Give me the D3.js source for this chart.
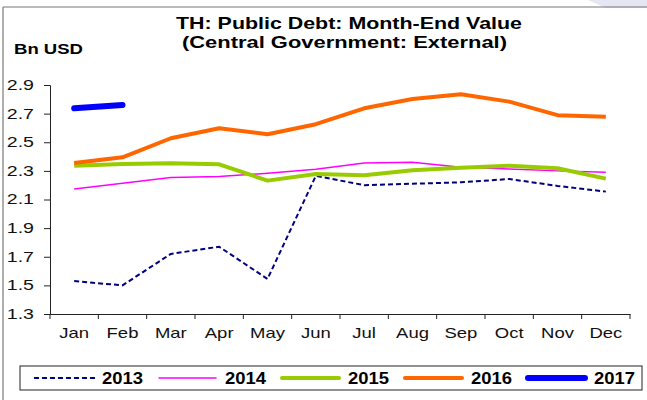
<!DOCTYPE html>
<html>
<head>
<meta charset="utf-8">
<script src="https://cdn.jsdelivr.net/npm/d3@7"></script>
<style>
  body { margin: 0; background: #fff; }
  svg { font-family: "Liberation Sans", Arial, sans-serif; }
</style>
</head>
<body>
<div id="vis"></div>
<script>
// chart data
const MONTHS = ["Jan","Feb","Mar","Apr","May","Jun","Jul","Aug","Sep","Oct","Nov","Dec"];
const Y_TICKS = [1.3, 1.5, 1.7, 1.9, 2.1, 2.3, 2.5, 2.7, 2.9];
const YEARS = ["2013", "2014", "2015", "2016", "2017"];
const V2013 = [1.53, 1.50, 1.72, 1.77, 1.545, 2.265, 2.20, 2.21, 2.22, 2.243, 2.195, 2.155];
const V2014 = [2.173, 2.213, 2.253, 2.26, 2.283, 2.311, 2.355, 2.36, 2.325, 2.313, 2.30, 2.29];
const V2015 = [2.336, 2.348, 2.353, 2.346, 2.232, 2.278, 2.269, 2.304, 2.322, 2.336, 2.318, 2.246];
const V2016 = [2.355, 2.395, 2.528, 2.598, 2.556, 2.626, 2.737, 2.802, 2.835, 2.784, 2.689, 2.679];
const V2017 = [2.737, 2.76];

const STYLES = [
  {color: "#000080", width: 2, dash: "5,3"},
  {color: "#ff00ff", width: 1.5, dash: null},
  {color: "#99cc00", width: 4, dash: null},
  {color: "#ff6600", width: 4, dash: null},
  {color: "#0000ff", width: 6, dash: null}
];
const SERIES = [V2013, V2014, V2015, V2016, V2017];

const FRAME_WIDTH = 647;
const FRAME_HEIGHT = 400;
const MARGINS = {left: 50, right: 17, top: 85, bottom: 86};
const VIS_WIDTH = FRAME_WIDTH - MARGINS.left - MARGINS.right;
const VIS_HEIGHT = FRAME_HEIGHT - MARGINS.top - MARGINS.bottom;

// the source picture is stretched sideways, so text is widened too
const TICK_STRETCH_X = 1.32;
const TICK_STRETCH_Y = 1.4;

const svg = d3.select("#vis").append("svg")
  .attr("width", FRAME_WIDTH)
  .attr("height", FRAME_HEIGHT);

// outer frame decoration
svg.append("path")
  .attr("d", "M588,0 L647,0 L647,8 L606,8 Z")
  .attr("fill", "#e4e6f4");
svg.append("line").attr("x1", 3).attr("x2", 647).attr("y1", 7).attr("y2", 7)
  .attr("stroke", "#777").attr("stroke-width", 1.2);
svg.append("line").attr("x1", 3).attr("x2", 3).attr("y1", 7).attr("y2", 400)
  .attr("stroke", "#777").attr("stroke-width", 1.2);

// title
svg.append("text").attr("x", 176).attr("y", 29)
  .attr("font-size", "16.5px").attr("font-weight", "bold")
  .attr("textLength", 346).attr("lengthAdjust", "spacingAndGlyphs")
  .text("TH: Public Debt: Month-End Value");
svg.append("text").attr("x", 182).attr("y", 48)
  .attr("font-size", "16.5px").attr("font-weight", "bold")
  .attr("textLength", 325).attr("lengthAdjust", "spacingAndGlyphs")
  .text("(Central Government: External)");
svg.append("text").attr("x", 14).attr("y", 54)
  .attr("font-size", "15px").attr("font-weight", "bold")
  .attr("textLength", 69).attr("lengthAdjust", "spacingAndGlyphs")
  .text("Bn USD");

const X_SCALE = d3.scaleBand().domain(MONTHS).range([0, VIS_WIDTH]);
const Y_SCALE = d3.scaleLinear().domain([1.3, 2.9]).range([VIS_HEIGHT, 0]);

const g = svg.append("g").attr("transform", `translate(${MARGINS.left},${MARGINS.top})`);

// axes
const xAxis = g.append("g").attr("transform", `translate(0,${VIS_HEIGHT})`)
  .call(d3.axisBottom(X_SCALE).tickSize(0).tickPadding(14));
xAxis.selectAll("text")
  .attr("font-size", "14px").attr("fill", "#111").attr("font-family", "Liberation Sans, Arial")
  .attr("transform", `scale(${TICK_STRETCH_X},1)`);
xAxis.selectAll(".tick").each(function() {
  // keep label centred after stretching
  const t = d3.select(this).select("text");
  t.attr("x", 0);
});
xAxis.select(".domain").attr("stroke", "#222");
xAxis.selectAll(".xtick").data(d3.range(MONTHS.length + 1)).enter().append("line")
  .attr("x1", (d) => d * X_SCALE.step()).attr("x2", (d) => d * X_SCALE.step())
  .attr("y1", 0).attr("y2", 5).attr("stroke", "#222");

const yAxis = g.append("g")
  .call(d3.axisLeft(Y_SCALE).tickValues(Y_TICKS).tickFormat(d3.format(".1f")).tickSize(6).tickPadding(10));
yAxis.selectAll("text")
  .attr("font-size", "14px").attr("fill", "#111").attr("font-family", "Liberation Sans, Arial")
  .attr("x", -16 / TICK_STRETCH_Y)
  .attr("transform", `scale(${TICK_STRETCH_Y},1)`);
yAxis.select(".domain").attr("stroke", "#222");
yAxis.selectAll(".tick line").attr("stroke", "#222");

// lines
const line = d3.line()
  .x((d, i) => X_SCALE(MONTHS[i]) + X_SCALE.bandwidth() / 2)
  .y((d) => Y_SCALE(d));

SERIES.forEach((vals, k) => {
  const s = STYLES[k];
  g.append("path")
    .datum(vals)
    .attr("d", line)
    .attr("fill", "none")
    .attr("stroke", s.color)
    .attr("stroke-width", s.width)
    .attr("stroke-linecap", k === 4 ? "round" : "butt")
    .attr("stroke-linejoin", "round")
    .attr("stroke-dasharray", s.dash);
});

// legend
svg.append("rect").attr("x", 20).attr("y", 366).attr("width", 622).attr("height", 24)
  .attr("fill", "#fff").attr("stroke", "#222").attr("stroke-width", 1);

const leg = svg.selectAll(".leg").data(YEARS).enter().append("g")
  .attr("transform", (d, i) => `translate(${34 + i * 123},378)`);
leg.append("line")
  .attr("x1", (d, i) => i === 0 ? 0 : 2).attr("x2", (d, i) => i === 0 ? 61 : 59)
  .attr("y1", 0).attr("y2", 0)
  .attr("stroke", (d, i) => STYLES[i].color)
  .attr("stroke-width", (d, i) => STYLES[i].width)
  .attr("stroke-linecap", (d, i) => i === 0 ? "butt" : "round")
  .attr("stroke-dasharray", (d, i) => STYLES[i].dash);
leg.append("text").attr("x", 68).attr("y", 6)
  .attr("font-size", "15.8px").attr("font-weight", "bold")
  .attr("textLength", 41).attr("lengthAdjust", "spacingAndGlyphs")
  .text((d) => d);
</script>
</body>
</html>
